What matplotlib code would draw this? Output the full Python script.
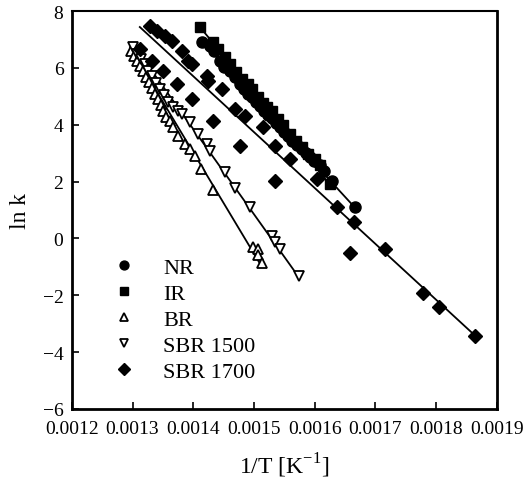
import numpy as np
import matplotlib
matplotlib.use("Agg")
import matplotlib.pyplot as plt
from matplotlib.ticker import FormatStrFormatter, MultipleLocator

plt.rcParams['font.family'] = 'Liberation Serif'
plt.rcParams['mathtext.fontset'] = 'custom'
plt.rcParams['mathtext.rm'] = 'Liberation Serif'

# x values are 1/T in units of 1e-4 K^-1, y values are ln k
nr_x = [14.14, 14.27, 14.34, 14.44, 14.50, 14.60, 14.69, 14.77, 14.83, 14.90,
        14.97, 15.03, 15.10, 15.16, 15.23, 15.29, 15.36, 15.43, 15.49, 15.56,
        15.62, 15.71, 15.79, 15.85, 15.92, 15.99, 16.09, 16.15, 16.28, 16.66]
nr_y = [6.91, 6.77, 6.59, 6.24, 6.03, 5.88, 5.67, 5.43, 5.25, 5.07,
        4.97, 4.79, 4.65, 4.47, 4.33, 4.23, 4.05, 3.91, 3.73, 3.59,
        3.42, 3.28, 3.13, 2.99, 2.85, 2.71, 2.57, 2.36, 2.01, 1.09]

ir_x = [14.11, 14.32, 14.41, 14.52, 14.60, 14.70, 14.80, 14.90, 14.97, 15.06,
        15.15, 15.21, 15.29, 15.39, 15.48, 15.59, 15.69, 15.79, 15.89, 16.00,
        16.09, 16.25]
ir_y = [7.44, 6.91, 6.66, 6.38, 6.13, 5.85, 5.60, 5.43, 5.25, 4.97,
        4.76, 4.61, 4.47, 4.19, 3.98, 3.66, 3.42, 3.20, 2.96, 2.78,
        2.60, 1.90]

br_x = [12.97, 13.02, 13.07, 13.12, 13.17, 13.22, 13.27, 13.32, 13.37, 13.42,
        13.47, 13.50, 13.55, 13.61, 13.66, 13.75, 13.86, 13.94, 14.03, 14.12,
        14.32, 14.98, 15.06, 15.06, 15.13]
br_y = [6.59, 6.41, 6.24, 6.06, 5.88, 5.67, 5.50, 5.28, 5.07, 4.90,
        4.69, 4.47, 4.26, 4.12, 3.91, 3.59, 3.31, 3.13, 2.89, 2.43,
        1.72, -0.29, -0.39, -0.60, -0.85]

sbr15_x = [13.00, 13.07, 13.14, 13.20, 13.25, 13.32, 13.38, 13.45, 13.52, 13.58,
           13.66, 13.75, 13.81, 13.94, 14.08, 14.22, 14.27, 14.52, 14.69, 14.93,
           15.29, 15.34, 15.43, 15.74]
sbr15_y = [6.73, 6.48, 6.31, 6.13, 5.88, 5.71, 5.46, 5.25, 5.04, 4.79,
           4.61, 4.47, 4.37, 4.09, 3.66, 3.31, 3.06, 2.32, 1.79, 1.09,
           0.07, -0.11, -0.39, -1.34]

sbr17_x = [13.29, 13.40, 13.53, 13.65, 13.81, 13.91, 13.98, 14.22, 14.24, 14.47,
           14.69, 14.85, 15.15, 15.34, 15.59, 16.04, 16.37, 16.65, 17.16, 17.78,
           18.05, 18.64, 13.12, 13.32, 13.50, 13.73, 13.98, 14.32, 14.77, 15.34,
           16.58]
sbr17_y = [7.47, 7.29, 7.12, 6.94, 6.59, 6.24, 6.13, 5.71, 5.53, 5.25,
           4.54, 4.30, 3.91, 3.24, 2.78, 2.08, 1.09, 0.56, -0.36, -1.91,
           -2.40, -3.42, 6.66, 6.24, 5.88, 5.43, 4.90, 4.12, 3.24, 2.01,
           -0.53]

# fitted lines (end points)
fit_nr_x, fit_nr_y = [14.14, 16.66], [6.95, 1.09]
fit_ir_x, fit_ir_y = [14.11, 16.25], [7.44, 1.90]
fit_br_x, fit_br_y = [12.96, 15.13], [6.73, -1.00]
fit_sbr15_x, fit_sbr15_y = [13.04, 15.74], [6.73, -1.37]
fit_sbr17_x, fit_sbr17_y = [13.12, 18.64], [7.44, -3.42]

scale = 1e-4

fig = plt.figure(figsize=(5.28, 4.85), dpi=100)
ax = fig.add_axes([0.136, 0.155, 0.805, 0.82])

for fx, fy in [(fit_nr_x, fit_nr_y), (fit_ir_x, fit_ir_y), (fit_br_x, fit_br_y),
               (fit_sbr15_x, fit_sbr15_y), (fit_sbr17_x, fit_sbr17_y)]:
    ax.plot(np.array(fx) * scale, fy, color='black', lw=1.3, zorder=2)

ax.plot(np.array(nr_x) * scale, nr_y, 'o', color='black', ms=8, label='NR', zorder=3)
ax.plot(np.array(ir_x) * scale, ir_y, 's', color='black', ms=7.5, label='IR', zorder=3)
ax.plot(np.array(br_x) * scale, br_y, '^', mfc='white', mec='black', mew=1.3, ms=7,
        label='BR', zorder=3)
ax.plot(np.array(sbr15_x) * scale, sbr15_y, 'v', mfc='white', mec='black', mew=1.3, ms=7,
        label='SBR 1500', zorder=3)
ax.plot(np.array(sbr17_x) * scale, sbr17_y, 'D', color='black', ms=7.2,
        label='SBR 1700', zorder=3)

ax.set_xlim(0.0012, 0.0019)
ax.set_ylim(-6, 8)
ax.xaxis.set_major_locator(MultipleLocator(0.0001))
ax.xaxis.set_major_formatter(FormatStrFormatter('%.4f'))
ax.yaxis.set_major_locator(MultipleLocator(2))
ax.tick_params(direction='in', length=5, width=1.2, labelsize=14, top=False, right=False)
ax.tick_params(axis='x', pad=8)
ax.tick_params(axis='y', pad=6)

for side in ['left', 'bottom', 'right']:
    ax.spines[side].set_linewidth(2)
ax.spines['top'].set_linewidth(1.5)

ax.set_xlabel('1/T [K$^{\\mathregular{-1}}$]', fontsize=17, labelpad=10)
ax.set_ylabel('ln k', fontsize=17, labelpad=8)

ax.legend(loc='lower left', bbox_to_anchor=(0.05, 0.045), frameon=False, fontsize=16,
          handletextpad=0.75, labelspacing=0.25, markerscale=0.8, borderaxespad=0)

fig.savefig('out.png', dpi=100)
